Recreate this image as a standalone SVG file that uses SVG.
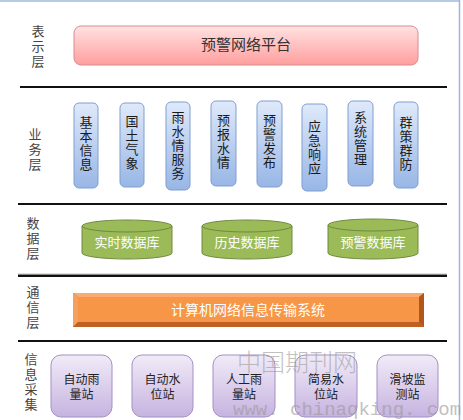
<svg xmlns="http://www.w3.org/2000/svg" width="463" height="420" viewBox="0 0 463 420">
<defs>
<linearGradient id="gPink" x1="0" y1="0" x2="0" y2="1"><stop offset="0" stop-color="#ffe2e2"/><stop offset="1" stop-color="#ff9e9e"/></linearGradient>
<linearGradient id="gBlue" x1="0" y1="0" x2="0" y2="1"><stop offset="0" stop-color="#dfe9fa"/><stop offset="1" stop-color="#98b6e6"/></linearGradient>
<linearGradient id="gPurple" x1="0" y1="0" x2="0" y2="1"><stop offset="0" stop-color="#f1ebf8"/><stop offset="1" stop-color="#c6b3e0"/></linearGradient>
<style>
.lbl{font-family:"Noto Sans CJK SC","Liberation Sans",sans-serif;font-size:13px;fill:#444;text-anchor:middle;writing-mode:vertical-rl;letter-spacing:2px}
.biz rect{fill:url(#gBlue);stroke:#7f9fd0;stroke-width:1}
.biz text{font-family:"Noto Sans CJK SC","Liberation Sans",sans-serif;font-size:13px;fill:#1a1a1a;text-anchor:middle;writing-mode:vertical-rl;letter-spacing:1px}
.db path,.db ellipse{fill:#9bbb59;stroke:#71893f;stroke-width:1}
.db text{font-family:"Noto Sans CJK SC","Liberation Sans",sans-serif;font-size:13px;fill:#fff;text-anchor:middle}
.st rect{fill:url(#gPurple);stroke:#a58fc6;stroke-width:1}
.st text{font-family:"Noto Sans CJK SC","Liberation Sans",sans-serif;font-size:12px;fill:#222;text-anchor:middle}
.sep{stroke:#111;stroke-width:2}
</style>
</defs>
<rect x="0" y="0" width="463" height="420" fill="#fff"/>
<line x1="0" y1="1" x2="460" y2="1" stroke="#9bb8dc" stroke-width="1.5"/>
<line x1="459.5" y1="0" x2="459.5" y2="420" stroke="#9bb8dc" stroke-width="1.5"/>

<g id="separators">
<line class="sep" x1="20" y1="87" x2="447" y2="87"/>
<line class="sep" x1="18" y1="204" x2="447" y2="204"/>
<line x1="18" y1="274.5" x2="447" y2="274.5" stroke="#888" stroke-width="1.5"/>
<line class="sep" x1="18" y1="276" x2="447" y2="276"/>
<line class="sep" x1="18" y1="341" x2="447" y2="341"/>
</g>

<g id="layer-labels">
<text class="lbl" x="38" y="47">表示层</text>
<text class="lbl" x="35" y="150">业务层</text>
<text class="lbl" x="33" y="239">数据层</text>
<text class="lbl" x="33" y="308">通信层</text>
<text class="lbl" x="31" y="383">信息采集</text>
</g>

<g id="platform">
<rect x="74" y="26" width="344" height="39" rx="7" fill="url(#gPink)" stroke="#d88c8c" stroke-width="1"/>
<text x="246" y="50" font-family="Noto Sans CJK SC, Liberation Sans, sans-serif" font-size="15" fill="#333" text-anchor="middle">预警网络平台</text>
</g>

<g id="biz1" class="biz"><rect x="74" y="103" width="24" height="85" rx="5"/><text x="86" y="144">基本信息</text></g>
<g id="biz2" class="biz"><rect x="120" y="103" width="24" height="84" rx="5"/><text x="132" y="143">国土气象</text></g>
<g id="biz3" class="biz"><rect x="166" y="102" width="24" height="88" rx="5"/><text x="178" y="146">雨水情服务</text></g>
<g id="biz4" class="biz"><rect x="211" y="101" width="25" height="85" rx="5"/><text x="223.5" y="142">预报水情</text></g>
<g id="biz5" class="biz"><rect x="257" y="101" width="25" height="86" rx="5"/><text x="269.5" y="142">预警发布</text></g>
<g id="biz6" class="biz"><rect x="302" y="104" width="25" height="87" rx="5"/><text x="314.5" y="148">应急响应</text></g>
<g id="biz7" class="biz"><rect x="348" y="101" width="25" height="85" rx="5"/><text x="360.5" y="139">系统管理</text></g>
<g id="biz8" class="biz"><rect x="394" y="102" width="24" height="86" rx="5"/><text x="406" y="144">群策群防</text></g>

<g id="db1" class="db"><path d="M82,226 L82,253 A45,6 0 0 0 172,253 L172,226 Z"/><ellipse cx="127" cy="226" rx="45" ry="6"/><text x="127" y="247">实时数据库</text></g>
<g id="db2" class="db"><path d="M202,226 L202,253 A45,6 0 0 0 292,253 L292,226 Z"/><ellipse cx="247" cy="226" rx="45" ry="6"/><text x="247" y="247">历史数据库</text></g>
<g id="db3" class="db"><path d="M328,225 L328,253 A45,6 0 0 0 418,253 L418,225 Z"/><ellipse cx="373" cy="225" rx="45" ry="6"/><text x="373" y="247">预警数据库</text></g>

<g id="comm">
<rect x="73" y="293" width="351" height="34" fill="#c8682a"/>
<polygon points="73,293 424,293 419,297 78,297" fill="#f9ab70"/>
<polygon points="73,293 78,297 78,322 73,327" fill="#f5a060"/>
<polygon points="424,293 424,327 419,322 419,297" fill="#b0561e"/>
<polygon points="73,327 424,327 419,322 78,322" fill="#bd6224"/>
<rect x="78" y="297" width="341" height="25" fill="#f79646"/>
<text x="248" y="315" font-family="Noto Sans CJK SC, Liberation Sans, sans-serif" font-size="14" fill="#fff" text-anchor="middle">计算机网络信息传输系统</text>
</g>

<g id="st1" class="st"><rect x="51" y="355" width="61" height="62" rx="10"/><text><tspan x="81.5" y="384">自动雨</tspan><tspan x="81.5" y="399">量站</tspan></text></g>
<g id="st2" class="st"><rect x="132" y="355" width="61" height="62" rx="10"/><text><tspan x="162.5" y="384">自动水</tspan><tspan x="162.5" y="399">位站</tspan></text></g>
<g id="st3" class="st"><rect x="213" y="355" width="62" height="62" rx="10"/><text><tspan x="244" y="384">人工雨</tspan><tspan x="244" y="399">量站</tspan></text></g>
<g id="st4" class="st"><rect x="295" y="355" width="62" height="62" rx="10"/><text><tspan x="326" y="384">简易水</tspan><tspan x="326" y="399">位站</tspan></text></g>
<g id="st5" class="st"><rect x="377" y="355" width="61" height="62" rx="10"/><text><tspan x="407.5" y="384">滑坡监</tspan><tspan x="407.5" y="399">测站</tspan></text></g>

<g id="watermark" fill="#999" opacity="0.6">
<text x="237" y="371" font-family="Noto Sans CJK SC, sans-serif" font-size="24" font-weight="300">中国期刊网</text>
<text x="233" y="415" font-family="Liberation Mono, monospace" font-size="19">www. chinaqking. com</text>
</g>
</svg>
